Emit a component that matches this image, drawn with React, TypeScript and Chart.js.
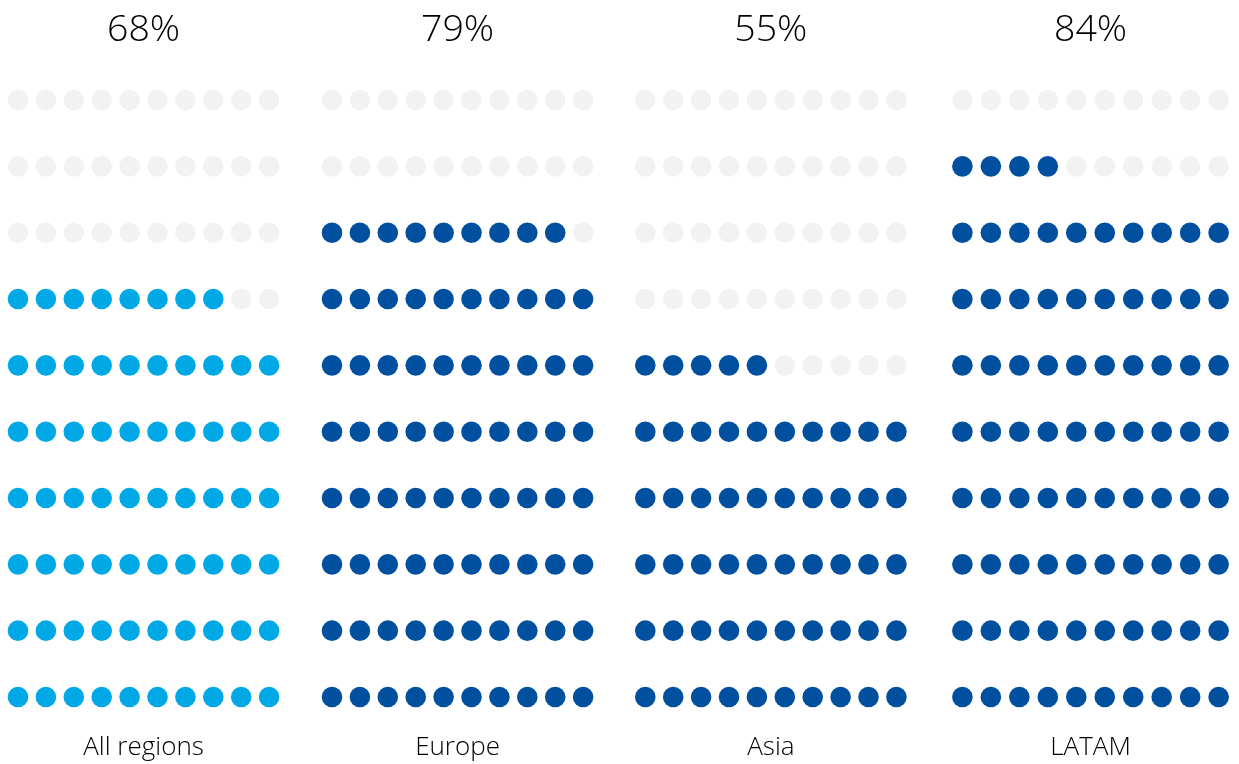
import React, { useEffect, useRef } from "react";
import { Chart, registerables } from "chart.js";

Chart.register(...registerables);

const regions = ["All regions", "Europe", "Asia", "LATAM"];
const percents = [68, 79, 55, 84];
const fillColors = ["#00a8e6", "#00509f", "#00509f", "#00509f"];
const emptyColor = "#f2f2f2";
const GRID = 10;

// layout of each panel's x axis: first dot pixel and spacing
const panelFirstPx = [18, 332, 645.3, 962.4];
const panelSpacingPx = [27.9, 27.9, 27.9, 28.47];
const WIDTH = 1239;
const HEIGHT = 764;

function buildDatasets() {
  const ds: any[] = [];
  percents.forEach((pct, p) => {
    const filled: { x: number; y: number }[] = [];
    const empty: { x: number; y: number }[] = [];
    for (let k = 0; k < GRID * GRID; k++) {
      const row = Math.floor(k / GRID);
      const col = k % GRID;
      const pt = { x: col, y: row + 1 };
      if (k < pct) filled.push(pt);
      else empty.push(pt);
    }
    const common = {
      borderWidth: 0,
      pointRadius: 10.3,
      pointHoverRadius: 10.3,
      clip: false,
      xAxisID: "x" + p,
    };
    ds.push({ label: regions[p] + " filled", data: filled, backgroundColor: fillColors[p], ...common });
    ds.push({ label: regions[p] + " empty", data: empty, backgroundColor: emptyColor, ...common });
  });
  return ds;
}

function buildScales() {
  const scales: any = {};
  percents.forEach((_, p) => {
    const f = panelFirstPx[p];
    const s = panelSpacingPx[p];
    scales["x" + p] = { type: "linear", display: false, min: -f / s, max: (WIDTH - f) / s };
  });
  scales.y = { type: "linear", display: false, min: -0.01, max: 11.508 };
  return scales;
}

const textPlugin = {
  id: "panelText",
  afterDraw(chart: any) {
    const ctx = chart.ctx;
    ctx.save();
    ctx.fillStyle = "#000000";
    ctx.textAlign = "center";
    ctx.textBaseline = "middle";
    percents.forEach((pct, p) => {
      const xs = chart.scales["x" + p];
      const cx = xs.getPixelForValue((GRID - 1) / 2);
      ctx.font = "300 37.5px 'Open Sans'";
      ctx.fillText(pct + "%", cx, 30);
      ctx.font = "300 26px 'Open Sans'";
      ctx.fillText(regions[p], cx, 748);
    });
    ctx.restore();
  },
};

export default function App() {
  const ref = useRef<HTMLCanvasElement | null>(null);
  useEffect(() => {
    document.body.style.margin = "0";
    const chart = new Chart(ref.current as HTMLCanvasElement, {
      type: "scatter",
      data: { datasets: buildDatasets() },
      options: {
        animation: false,
        responsive: false,
        layout: { padding: 0, autoPadding: false },
        plugins: { legend: { display: false }, tooltip: { enabled: false } },
        scales: buildScales(),
      },
      plugins: [textPlugin],
    });
    return () => chart.destroy();
  }, []);
  return (
    <div style={{ position: "absolute", left: 0, top: 0, width: WIDTH, height: HEIGHT, background: "#fff" }}>
      <canvas ref={ref} width={WIDTH} height={HEIGHT} />
    </div>
  );
}
